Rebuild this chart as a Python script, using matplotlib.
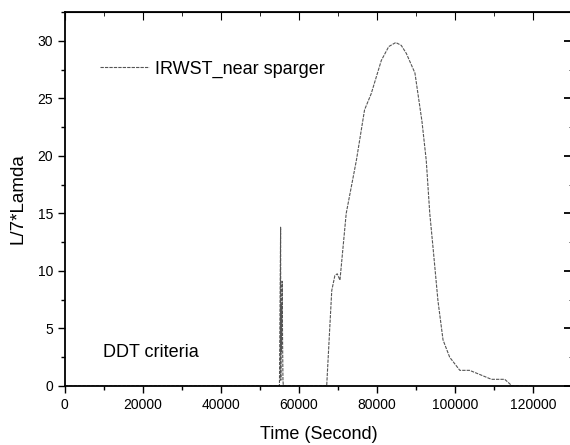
import matplotlib.pyplot as plt
from matplotlib.ticker import MultipleLocator

plt.rcParams['font.family'] = ['Liberation Sans', 'DejaVu Sans']

# time (s) and L/7*Lamda
time = [0, 30000, 55000, 55150, 55300, 55350, 55400, 55500, 55600, 55700, 55800, 55900, 56000,
        67100, 67800, 68400, 69200, 69800, 70500, 71300, 72100, 74700, 76800, 78500,
        81100, 83000, 84800, 86200, 87500, 89700, 91500, 92600, 93500, 94400, 95600,
        96900, 98600, 101200, 103700, 106300, 109300, 112700, 114600, 120000]
lamda = [0, 0, 0, 6.8, 13.8, 0.5, 7.0, 3.0, 6.0, 9.1, 4.0, 0.5, 0,
         0, 4.5, 8.3, 9.6, 9.75, 9.2, 12.1, 15.0, 19.6, 24.0, 25.4,
         28.3, 29.5, 29.85, 29.6, 28.9, 27.2, 23.0, 19.6, 15.0, 11.8, 7.4,
         4.0, 2.5, 1.36, 1.36, 1.0, 0.58, 0.58, 0, 0]

fig = plt.figure(figsize=(5.7, 4.45), dpi=100)
ax = fig.add_axes([0.1135, 0.1326, 0.8905, 0.8404])

ax.plot(time, lamda, color='#555555', lw=0.8, linestyle=(0, (3, 1)),
        label='IRWST_near sparger')

ax.set_xlim(0, 130000)
ax.set_ylim(0, 32.5)
ax.xaxis.set_major_locator(MultipleLocator(20000))
ax.xaxis.set_minor_locator(MultipleLocator(10000))
ax.yaxis.set_major_locator(MultipleLocator(5))
ax.yaxis.set_minor_locator(MultipleLocator(2.5))
ax.tick_params(which='major', direction='out', length=5, width=1, labelsize=10)
ax.tick_params(which='minor', direction='out', length=3, width=1)

# top and right ticks point inward
top = ax.secondary_xaxis('top')
top.xaxis.set_major_locator(MultipleLocator(20000))
top.xaxis.set_minor_locator(MultipleLocator(10000))
top.tick_params(which='major', direction='in', length=6, labeltop=False)
top.tick_params(which='minor', direction='in', length=3)
right = ax.secondary_yaxis('right')
right.yaxis.set_major_locator(MultipleLocator(5))
right.yaxis.set_minor_locator(MultipleLocator(2.5))
right.tick_params(which='major', direction='in', length=6, width=1.3, labelright=False)
right.tick_params(which='minor', direction='in', length=2)

for s in ax.spines.values():
    s.set_linewidth(1.3)

ax.set_xlabel('Time (Second)', fontsize=13, labelpad=10)
ax.set_ylabel('L/7*Lamda', fontsize=13.5, labelpad=8)

ax.legend(loc='center left', bbox_to_anchor=(0.0695, 0.8476), frameon=False,
          fontsize=13, handlelength=2.7, handletextpad=0.35, borderpad=0,
          borderaxespad=0)
ax.text(9800, 2.9, 'DDT criteria', fontsize=13, va='center', ha='left')

plt.savefig('out.png', dpi=100)
